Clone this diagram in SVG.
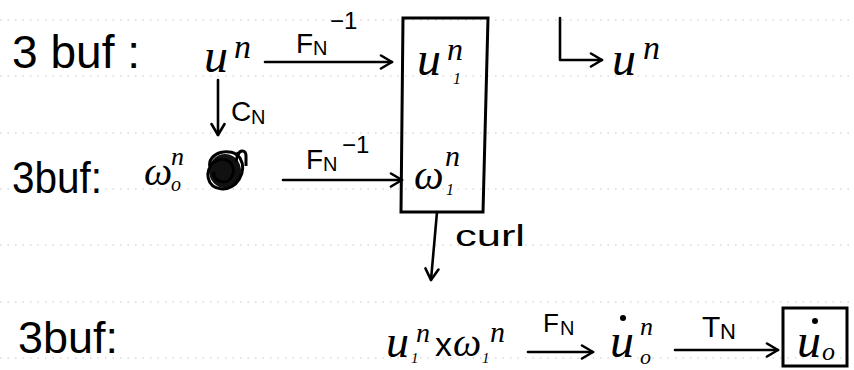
<svg xmlns="http://www.w3.org/2000/svg" width="854" height="370" viewBox="0 0 854 370">
<style>
  .rule{stroke:#c8c8c8;stroke-width:1;stroke-dasharray:1.5 6;fill:none}
  .t{font-family:"Liberation Sans","DejaVu Sans",sans-serif;fill:#000}
  .v{font-family:"Liberation Serif","DejaVu Serif",serif;font-style:italic;fill:#000}
  .edge{stroke:#000;stroke-width:2.6;fill:none;stroke-linecap:round;stroke-linejoin:round}
  .box{stroke:#000;stroke-width:3;fill:none}
</style>
<defs>
  <marker id="ah" markerUnits="userSpaceOnUse" markerWidth="16" markerHeight="16" refX="13" refY="8" orient="auto">
    <path d="M2,1.5 L13,8 L2,14.5" fill="none" stroke="#000" stroke-width="2.6" stroke-linecap="round" stroke-linejoin="round"/>
  </marker>
</defs>
<rect width="854" height="370" fill="#fff"/>
<g id="rules">
  <line class="rule" x1="0" y1="20" x2="854" y2="20"/>
  <line class="rule" x1="0" y1="76" x2="854" y2="76"/>
  <line class="rule" x1="0" y1="133" x2="854" y2="133"/>
  <line class="rule" x1="0" y1="189" x2="854" y2="189"/>
  <line class="rule" x1="0" y1="245" x2="854" y2="245"/>
  <line class="rule" x1="0" y1="302" x2="854" y2="302"/>
  <line class="rule" x1="0" y1="358" x2="854" y2="358"/>
</g>

<g id="row1-label"><text class="t" font-size="46" x="12" y="68" textLength="128" lengthAdjust="spacing">3 buf :</text></g>
<g id="row2-label"><text class="t" font-size="44" x="12" y="193" textLength="90" lengthAdjust="spacingAndGlyphs">3buf:</text></g>
<g id="row3-label"><text class="t" font-size="44" x="18" y="353" textLength="100" lengthAdjust="spacingAndGlyphs">3buf:</text></g>

<g id="node-un">
  <text class="v" font-size="48" x="204" y="72">u</text>
  <text class="v" font-size="34" x="234" y="58">n</text>
</g>

<g id="node-w0">
  <text class="v" font-size="40" x="144" y="185">ω</text>
  <text class="v" font-size="20" x="171" y="191">o</text>
  <text class="v" font-size="26" x="171" y="165">n</text>
</g>

<g id="scribble">
  <ellipse cx="225" cy="171" rx="16" ry="17" fill="#111"/>
  <path d="M210,168 C206,152 232,146 240,158 C248,172 236,190 222,189 C206,188 204,170 214,162 C224,154 238,164 232,176 C228,186 212,182 214,172" fill="none" stroke="#000" stroke-width="3"/>
  <path d="M236,162 L238,152 M238,155 C240,149 246,150 246,156 L246,166" fill="none" stroke="#000" stroke-width="3"/>
</g>

<g id="node-box">
  <path class="box" d="M403,18 L488,18 L483,212 L401,212 Z"/>
  <g id="node-u1">
    <text class="v" font-size="48" x="417" y="75">u</text>
    <text class="v" font-size="16" x="453" y="84">1</text>
    <text class="v" font-size="32" x="447" y="60">n</text>
  </g>
  <g id="node-w1">
    <text class="v" font-size="42" x="414" y="189">ω</text>
    <text class="v" font-size="16" x="446" y="195">1</text>
    <text class="v" font-size="30" x="445" y="166">n</text>
  </g>
</g>

<g id="node-un-copy">
  <text class="v" font-size="48" x="612" y="75">u</text>
  <text class="v" font-size="34" x="643" y="59">n</text>
</g>

<g id="node-cross">
  <text class="v" font-size="46" x="386" y="357">u</text>
  <text class="v" font-size="15" x="411" y="363">1</text>
  <text class="v" font-size="28" x="416" y="342">n</text>
  <text class="t" font-size="34" x="435" y="356">x</text>
  <text class="v" font-size="40" x="453" y="356">ω</text>
  <text class="v" font-size="15" x="482" y="363">1</text>
  <text class="v" font-size="30" x="490" y="342">n</text>
</g>

<g id="node-udot0n">
  <text class="v" font-size="48" x="610" y="357">u</text>
  <circle cx="623" cy="318" r="3" fill="#000"/>
  <text class="v" font-size="22" x="640" y="364">o</text>
  <text class="v" font-size="26" x="640" y="335">n</text>
</g>

<g id="node-udot0">
  <rect class="box" x="783" y="308" width="64" height="58"/>
  <text class="v" font-size="48" x="797" y="357">u</text>
  <circle cx="815" cy="321" r="3" fill="#000"/>
  <text class="v" font-size="26" x="822" y="360">o</text>
</g>

<g id="connectors">
  <line class="edge" x1="265" y1="62" x2="392" y2="62" marker-end="url(#ah)"/>
  <line class="edge" x1="218" y1="80" x2="218" y2="135" marker-end="url(#ah)"/>
  <line class="edge" x1="283" y1="180" x2="402" y2="180" marker-end="url(#ah)"/>
  <path class="edge" d="M560,18 L560,60 L602,60" marker-end="url(#ah)"/>
  <line class="edge" x1="437" y1="212" x2="431" y2="280" marker-end="url(#ah)"/>
  <line class="edge" x1="528" y1="352" x2="593" y2="352" marker-end="url(#ah)"/>
  <line class="edge" x1="675" y1="350" x2="778" y2="350" marker-end="url(#ah)"/>
</g>

<g id="connector-labels">
  <g id="lab-finv1">
    <text class="t" font-size="28" x="296" y="53">F</text>
    <text class="t" font-size="20" x="313" y="55">N</text>
    <text class="t" font-size="24" x="330" y="29">−1</text>
  </g>
  <g id="lab-cn">
    <text class="t" font-size="28" x="231" y="121">C</text>
    <text class="t" font-size="20" x="251" y="124">N</text>
  </g>
  <g id="lab-finv2">
    <text class="t" font-size="28" x="306" y="169">F</text>
    <text class="t" font-size="20" x="323" y="171">N</text>
    <text class="t" font-size="24" x="342" y="153">−1</text>
  </g>
  <g id="lab-curl">
    <text class="t" font-size="30" x="455" y="246" textLength="70" lengthAdjust="spacingAndGlyphs">curl</text>
  </g>
  <g id="lab-fn">
    <text class="t" font-size="26" x="543" y="332">F</text>
    <text class="t" font-size="20" x="560" y="335">N</text>
  </g>
  <g id="lab-tn">
    <text class="t" font-size="30" x="702" y="337">T</text>
    <text class="t" font-size="22" x="720" y="339">N</text>
  </g>
</g>
</svg>
